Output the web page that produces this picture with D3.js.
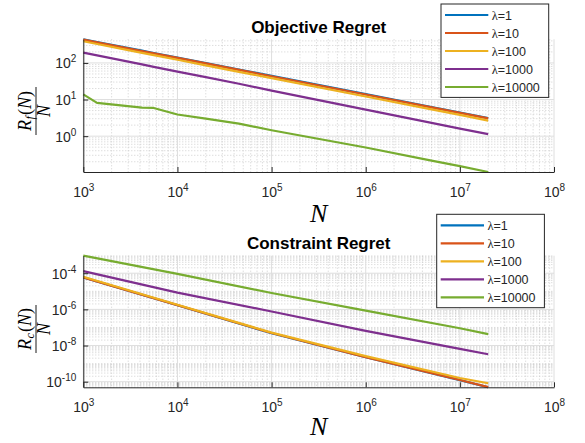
<!DOCTYPE html>
<html>
<head>
<meta charset="utf-8">
<script src="https://cdn.jsdelivr.net/npm/d3@7"></script>
<style>
body { margin: 0; background: #fff; }
svg { display: block; font-family: "Liberation Sans", Arial, sans-serif; }
</style>
</head>
<body>
<svg width="585" height="443"></svg>
<script>
// series labels and colours (MATLAB default order)
var lambdas = ["1", "10", "100", "1000", "10000"];
var colors = ["#0072BD", "#D95319", "#EDB120", "#7E2F8E", "#77AC30"];

// objective regret R_f(N)/N
var nObj = [1e3, 1.4e3, 4.2e3, 5.6e3, 1e4, 2e4, 4.5e4, 1e5, 1e6, 5e6, 1e7, 2e7];
var objL1     = [442, 374, 216, 187, 140, 99, 66, 44.2, 14.0, 6.25, 4.42, 3.12];
var objL10    = [432, 366, 211, 183, 137, 97, 64.5, 43.2, 13.7, 6.12, 4.33, 3.06];
var objL100   = [390, 329, 189, 163, 122, 86, 57, 38.5, 12.1, 5.4, 3.8, 2.66];
var objL1000  = [192, 161, 91, 78, 58, 41, 27, 17.6, 5.3, 2.3, 1.6, 1.14];
var objL10000 = [13.8, 8.1, 6.0, 5.9, 3.9, 3.0, 2.2, 1.45, 0.49, 0.215, 0.152, 0.105];

// constraint regret R_c(N)/N
var nCon = [1e3, 1e4, 1e5, 1e6, 1e7, 2e7];
var conL1     = [5.8e-5, 1.70e-6, 4.8e-8, 2.25e-9, 1.22e-10, 4.9e-11];
var conL10    = [5.9e-5, 1.72e-6, 4.9e-8, 2.3e-9, 1.25e-10, 5.0e-11];
var conL100   = [6.4e-5, 1.8e-6, 5.2e-8, 2.6e-9, 1.6e-10, 8.2e-11];
var conL1000  = [1.3e-4, 8.5e-6, 7.6e-7, 6.5e-8, 6.5e-9, 3.3e-9];
var conL10000 = [9.3e-4, 9.1e-5, 8.0e-6, 8.5e-7, 9.0e-8, 4.3e-8];

// tick exponents
var xTickExp = [3, 4, 5, 6, 7, 8];
var objTickExp = [0, 1, 2];
var conTickExp = [-10, -8, -6, -4];

var svg = d3.select("svg");
var axisColor = "#262626";

function logMinors(dom, majors) {
  var out = [];
  var e0 = Math.floor(Math.log10(dom[0])), e1 = Math.ceil(Math.log10(dom[1]));
  for (var e = e0; e <= e1; e++) {
    for (var k = 1; k < 10; k++) {
      var v = k * Math.pow(10, e);
      if (v >= dom[0] * 0.9999 && v <= dom[1] * 1.0001 && majors.indexOf(v) < 0) out.push(v);
    }
  }
  return out;
}

function supLabels(sel, anchor, ty) {
  sel.each(function(d) {
    var t = d3.select(this);
    var e = Math.round(Math.log10(d));
    t.text(null).attr("dy", null).attr("fill", axisColor)
      .attr("font-size", 14).attr("text-anchor", anchor);
    if (anchor == "middle") t.attr("y", ty); else t.attr("x", -7).attr("y", 5);
    t.append("tspan").text("10");
    t.append("tspan").attr("font-size", 10).attr("dy", -6).text(e);
  });
}

function panel(o) {
  var g = svg.append("g");
  var allVals = d3.merge(o.series);
  var x = d3.scaleLog().domain([1e3, 1e8]).range([83.3, 554]);
  var y = d3.scaleLog().domain(d3.extent(allVals)).range([o.bottom, o.top]);

  var xMaj = xTickExp.map(function(e) { return Math.pow(10, e); });
  var yMaj = o.yExp.map(function(e) { return Math.pow(10, e); });
  var xMin = logMinors(x.domain(), xMaj);
  var yMin = logMinors(y.domain(), yMaj);

  // minor grid (dotted)
  var grid = g.append("g").attr("fill", "none");
  grid.selectAll(".mx").data(xMin).enter().append("line")
    .attr("x1", x).attr("x2", x).attr("y1", o.top).attr("y2", o.bottom)
    .attr("stroke", "#c4c4c4").attr("stroke-width", 0.8).attr("stroke-dasharray", "1,2");
  grid.selectAll(".my").data(yMin).enter().append("line")
    .attr("y1", y).attr("y2", y).attr("x1", 83.3).attr("x2", 554)
    .attr("stroke", "#c4c4c4").attr("stroke-width", 0.8).attr("stroke-dasharray", "1,2");
  // major grid
  grid.selectAll(".gx").data(xMaj).enter().append("line")
    .attr("x1", x).attr("x2", x).attr("y1", o.top).attr("y2", o.bottom)
    .attr("stroke", "#dedede").attr("stroke-width", 1);
  grid.selectAll(".gy").data(yMaj).enter().append("line")
    .attr("y1", y).attr("y2", y).attr("x1", 83.3).attr("x2", 554)
    .attr("stroke", "#dedede").attr("stroke-width", 1);

  // data lines
  var line = d3.line()
    .x(function(d) { return x(d[0]); })
    .y(function(d) { return y(d[1]); });
  o.series.forEach(function(s, i) {
    g.append("path")
      .datum(o.n.map(function(n, j) { return [n, s[j]]; }))
      .attr("d", line)
      .attr("fill", "none")
      .attr("stroke", colors[i])
      .attr("stroke-width", 2.2)
      .attr("stroke-linejoin", "round");
  });

  // axes, ticks pointing inward
  var xa = g.append("g").attr("transform", "translate(0," + o.bottom + ")");
  xa.call(d3.axisBottom(x).tickValues(xMin).tickSize(-3).tickFormat("").tickSizeOuter(0));
  xa.call(d3.axisBottom(x).tickValues(xMaj).tickSize(-5).tickSizeOuter(0));
  xa.selectAll(".tick line").attr("stroke", axisColor);
  xa.selectAll(".domain").attr("stroke", axisColor);
  supLabels(xa.selectAll(".tick text").filter(function(d) { return xMaj.indexOf(d) >= 0; }), "middle", 24.7);

  var ya = g.append("g").attr("transform", "translate(83.3,0)");
  ya.call(d3.axisLeft(y).tickValues(yMin).tickSize(-3).tickFormat("").tickSizeOuter(0));
  ya.call(d3.axisLeft(y).tickValues(yMaj).tickSize(-5).tickSizeOuter(0));
  ya.selectAll(".tick line").attr("stroke", axisColor);
  ya.selectAll(".domain").attr("stroke", axisColor);
  supLabels(ya.selectAll(".tick text").filter(function(d) { return yMaj.indexOf(d) >= 0; }), "end");

  // title
  g.append("text").attr("x", 318.7).attr("y", o.titleY)
    .attr("text-anchor", "middle").attr("font-weight", "bold").attr("font-size", 17)
    .attr("fill", "#000").text(o.title);

  // x label
  g.append("text").attr("x", 318.7).attr("y", o.xlabY)
    .attr("text-anchor", "middle").attr("font-family", "'Liberation Serif', serif")
    .attr("font-style", "italic").attr("font-size", 26).attr("fill", "#000").text("N");

  // y label: fraction R_sub(N) / N
  var yl = g.append("g")
    .attr("transform", "translate(36," + o.ylabY + ") rotate(-90)")
    .attr("font-family", "'Liberation Serif', serif").attr("font-style", "italic").attr("fill", "#000");
  var num = yl.append("text").attr("x", 0).attr("y", -5).attr("text-anchor", "middle").attr("font-size", 18);
  num.append("tspan").text("R");
  num.append("tspan").attr("font-size", 12).attr("dy", 3).attr("dx", 0.5).text(o.sub);
  num.append("tspan").attr("dy", -3).attr("dx", 1).attr("font-style", "normal").text("(");
  num.append("tspan").text("N");
  num.append("tspan").attr("font-style", "normal").text(")");
  yl.append("line").attr("x1", -24).attr("x2", 24).attr("y1", 0).attr("y2", 0)
    .attr("stroke", "#000").attr("stroke-width", 0.9);
  yl.append("text").attr("x", 0).attr("y", 14).attr("text-anchor", "middle").attr("font-size", 18).text("N");

  // legend
  var lg = g.append("g").attr("transform", "translate(" + o.legX + "," + o.legY + ")");
  lg.append("rect").attr("x", 0).attr("y", 0).attr("width", 107.7).attr("height", 93.4)
    .attr("fill", "#fff").attr("stroke", axisColor).attr("stroke-width", 1);
  lambdas.forEach(function(l, i) {
    var cy = 11 + i * 18;
    lg.append("line").attr("x1", 4).attr("x2", 47.3).attr("y1", cy).attr("y2", cy)
      .attr("stroke", colors[i]).attr("stroke-width", 2.2);
    var t = lg.append("text").attr("x", 50.7).attr("y", cy + 4.5).attr("font-size", 12.5).attr("fill", axisColor);
    t.append("tspan").attr("font-family", "'Liberation Serif', serif").text("λ");
    t.append("tspan").text("=" + l);
  });
}

panel({
  n: nObj,
  series: [objL1, objL10, objL100, objL1000, objL10000],
  yExp: objTickExp,
  top: 39.3, bottom: 172,
  title: "Objective Regret", titleY: 33,
  xlabY: 221.5, ylabY: 111, sub: "f",
  legX: 441, legY: 4
});

panel({
  n: nCon,
  series: [conL1, conL10, conL100, conL1000, conL10000],
  yExp: conTickExp,
  top: 255.7, bottom: 387.3,
  title: "Constraint Regret", titleY: 249,
  xlabY: 435, ylabY: 329, sub: "c",
  legX: 436.7, legY: 214.3
});
</script>
</body>
</html>
